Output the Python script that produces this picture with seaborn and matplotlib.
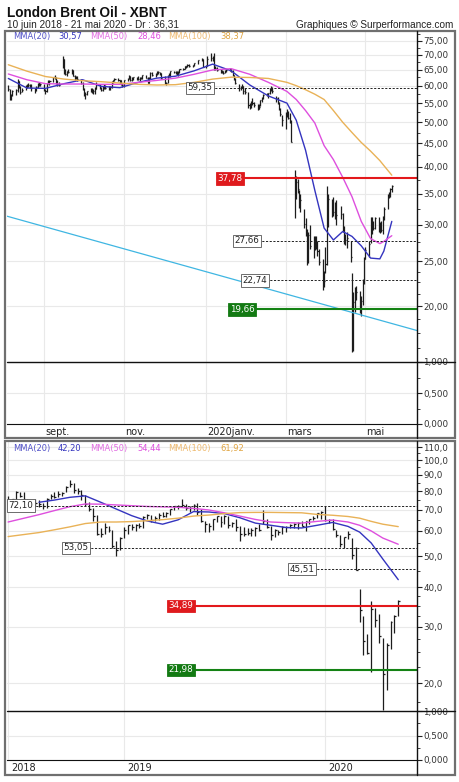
import matplotlib
matplotlib.use("Agg")
import matplotlib.pyplot as plt
import matplotlib.dates as mdates
import matplotlib.ticker as mticker
from matplotlib.patches import Rectangle
from matplotlib.lines import Line2D
from matplotlib.transforms import ScaledTranslation, blended_transform_factory
import numpy as np
import pandas as pd
import seaborn as sns

# ---------------- daily bars, top panel (6 Aug 2019 -> 21 May 2020) ----------------
day_start, day_end = "2019-08-06", "2020-05-21"
day_holidays = ["2019-12-25", "2019-12-26", "2020-01-01", "2020-04-10"]

day_close = [
    58.9, 56.2, 57.4, 58.5, 58.6, 61.3, 59.5, 58.2, 58.6, 59.7, 60.0, 60.3, 59.9, 59.3, 58.7, 59.5, 60.5, 60.1, 60.4,  # aug
    58.7, 58.3, 60.7, 61.0, 61.5, 62.6, 62.4, 60.8, 60.4, 60.2, 68.4, 64.6, 63.6, 64.4, 64.3, 64.8, 63.1, 62.4, 62.7, 61.9, 60.8,  # sep
    58.9, 57.7, 57.7, 58.4, 58.4, 58.2, 58.3, 59.1, 60.5, 59.4, 58.7, 59.4, 59.9, 59.4, 59.0, 59.7, 61.2, 61.7, 62.0, 61.6, 61.6, 60.6, 60.2,  # oct
    61.7, 62.1, 63.0, 61.7, 62.3, 62.5, 62.2, 62.1, 62.4, 62.3, 63.3, 62.4, 60.9, 62.4, 64.0, 63.4, 63.6, 64.3, 64.1, 63.9, 62.4,  # nov
    60.9, 60.8, 63.0, 63.4, 64.4, 64.3, 64.3, 63.7, 64.2, 65.2, 65.3, 66.1, 66.2, 66.5, 66.1, 66.4, 67.2, 68.2, 68.4, 66.0,  # dec
    66.3, 68.6, 68.9, 68.3, 65.4, 65.4, 65.0, 64.2, 64.5, 64.0, 64.6, 64.9, 65.2, 64.6, 63.2, 62.0, 60.7, 59.3, 59.5, 59.8, 58.3, 58.2,  # jan
    54.5, 54.0, 55.3, 54.9, 54.5, 53.3, 54.0, 55.8, 56.3, 57.3, 57.7, 57.8, 59.1, 59.3, 58.5, 56.3, 55.0, 53.4, 52.2, 50.5,  # feb
    51.9, 51.9, 51.1, 50.0, 45.3, 34.4, 37.2, 35.8, 33.2, 33.9, 30.1, 28.7, 24.9, 28.5, 27.0, 27.0, 27.2, 27.4, 26.3, 24.9, 22.8, 22.7,  # mar
    24.7, 29.9, 34.1, 33.1, 31.9, 32.8, 31.5, 31.7, 29.6, 27.7, 27.8, 28.1, 25.6, 19.3, 20.4, 21.3, 21.4, 20.0, 20.5, 22.5, 25.3,  # apr
    26.4, 27.2, 31.0, 29.7, 29.5, 31.0, 29.6, 30.0, 29.2, 31.1, 32.5, 34.8, 34.7, 35.8, 36.3,  # may
]
day_high = [
    60.3, 59.0, 57.6, 58.8, 59.0, 61.9, 61.4, 59.9, 59.2, 60.2, 60.5, 60.8, 60.6, 60.5, 59.4, 59.8, 60.7, 61.1, 60.8,
    60.6, 59.1, 60.9, 61.6, 61.8, 62.8, 63.2, 62.6, 61.6, 61.0, 69.4, 68.6, 65.2, 64.6, 65.1, 65.3, 65.0, 63.3, 63.0, 62.9, 62.0,
    61.2, 59.4, 58.0, 58.5, 59.2, 59.2, 58.9, 59.6, 61.0, 60.5, 59.6, 59.8, 60.4, 60.2, 59.8, 60.0, 61.3, 61.8, 62.2, 62.2, 61.8, 61.8, 60.8,
    61.8, 62.4, 63.2, 63.0, 62.8, 62.7, 62.6, 62.9, 62.6, 62.6, 63.4, 63.4, 62.6, 62.6, 64.2, 64.1, 63.9, 64.4, 64.6, 64.1, 63.9,
    62.9, 61.2, 63.2, 64.0, 64.7, 64.7, 64.6, 64.6, 64.4, 65.3, 65.5, 66.2, 66.3, 66.7, 66.7, 66.5, 67.3, 68.2, 69.0, 68.6,
    66.6, 69.5, 70.7, 69.4, 70.6, 66.3, 65.7, 65.2, 64.9, 64.6, 64.9, 65.1, 65.6, 65.3, 64.8, 63.4, 62.4, 60.5, 59.9, 60.4, 59.9, 59.4,
    58.2, 55.1, 55.6, 56.4, 55.2, 54.7, 54.8, 56.0, 56.6, 57.5, 57.8, 57.9, 59.3, 59.9, 59.5, 57.0, 56.8, 55.3, 53.6, 51.9,
    52.6, 53.3, 52.9, 52.3, 50.6, 39.4, 38.2, 37.6, 35.6, 35.0, 32.4, 31.0, 29.3, 29.0, 30.0, 28.3, 28.4, 28.4, 27.6, 26.6, 25.3, 23.8,
    26.9, 36.3, 35.0, 34.1, 34.4, 33.6, 33.9, 33.0, 31.8, 29.8, 28.6, 29.0, 27.6, 23.6, 21.5, 22.0, 22.1, 21.6, 21.0, 22.9, 25.6,
    26.8, 27.6, 31.1, 31.2, 30.6, 31.2, 31.2, 30.4, 30.5, 31.4, 32.8, 35.0, 35.4, 36.0, 36.5,
]
day_low = [
    58.5, 55.9, 55.9, 56.9, 57.4, 58.2, 59.2, 57.7, 58.0, 58.7, 59.4, 59.6, 59.4, 58.4, 57.9, 58.4, 59.4, 59.8, 59.8,
    58.4, 57.7, 58.2, 60.4, 60.3, 61.2, 61.9, 60.6, 59.9, 59.9, 65.4, 63.6, 63.3, 63.0, 63.8, 63.6, 62.9, 61.8, 62.0, 61.4, 60.5,
    58.7, 57.1, 56.2, 57.2, 58.0, 57.8, 57.7, 57.6, 59.1, 59.1, 58.5, 58.4, 58.9, 59.1, 58.8, 58.8, 59.4, 60.8, 61.3, 61.3, 60.6, 60.1, 59.6,
    59.6, 61.4, 61.9, 61.5, 61.4, 61.6, 61.7, 61.8, 61.3, 61.9, 62.1, 62.3, 60.7, 60.7, 62.1, 63.1, 62.8, 63.2, 63.7, 63.4, 62.1,
    60.5, 60.1, 60.9, 62.6, 62.8, 63.8, 63.6, 63.4, 63.0, 63.9, 64.8, 65.1, 65.6, 65.8, 65.9, 65.8, 66.3, 67.0, 67.8, 65.9,
    65.6, 66.1, 68.0, 67.8, 64.9, 64.8, 64.6, 64.0, 63.8, 63.6, 63.9, 64.2, 64.7, 64.3, 63.0, 61.7, 60.5, 58.5, 58.7, 59.2, 57.7, 57.6,
    53.8, 53.5, 53.8, 54.6, 54.0, 53.2, 53.3, 54.1, 55.2, 56.1, 56.9, 56.5, 57.7, 58.5, 57.8, 55.2, 54.8, 53.1, 51.6, 49.1,
    48.4, 51.2, 50.7, 49.8, 45.2, 31.0, 34.1, 35.2, 32.6, 32.0, 29.5, 28.3, 24.5, 24.8, 26.6, 25.4, 26.4, 26.6, 25.7, 24.6, 21.7, 22.0,
    23.6, 24.6, 29.7, 31.2, 31.4, 30.8, 30.0, 30.8, 29.0, 27.2, 27.1, 26.7, 24.9, 15.9, 16.0, 19.4, 20.6, 19.3, 19.0, 20.1, 22.3,
    25.3, 25.5, 27.4, 28.7, 29.2, 29.4, 29.0, 28.8, 28.9, 28.7, 30.7, 32.4, 34.2, 34.5, 35.4,
]

# moving averages
top_ma_dates = ["2019-08-06", "2019-08-20", "2019-09-03", "2019-09-17", "2019-10-01", "2019-10-15",
                "2019-10-29", "2019-11-12", "2019-11-26", "2019-12-10", "2019-12-24", "2020-01-07",
                "2020-01-21", "2020-02-04", "2020-02-18", "2020-03-03", "2020-03-10", "2020-03-17",
                "2020-03-24", "2020-03-31", "2020-04-07", "2020-04-14", "2020-04-21", "2020-04-28",
                "2020-05-05", "2020-05-12", "2020-05-15", "2020-05-21"]
top_ma20 = [62.2, 59.3, 59.2, 60.6, 61.8, 59.8, 59.4, 61.0, 62.3, 62.9, 64.6, 66.8, 64.6, 60.2,
            57.0, 55.0, 50.5, 43.5, 35.6, 29.5, 27.8, 29.0, 28.3, 27.0, 25.4, 25.3, 26.3, 30.5]
top_ma50 = [63.6, 61.8, 60.6, 60.5, 60.5, 60.4, 60.4, 61.0, 61.6, 62.3, 63.5, 64.9, 65.3, 63.5,
            61.0, 58.3, 56.0, 53.0, 49.8, 44.5, 41.5, 38.0, 34.5, 30.5, 28.0, 27.3, 27.6, 28.4]
top_ma100 = [66.6, 64.5, 62.8, 62.0, 61.5, 61.2, 60.8, 60.4, 60.2, 60.3, 61.0, 62.0, 62.6, 62.5,
             62.2, 61.0, 60.0, 58.8, 57.5, 56.0, 53.0, 50.0, 47.5, 45.2, 43.3, 41.3, 40.3, 38.4]
top_ma_last = [30.57, 28.46, 38.37]

trend_dates = ["2019-08-05", "2020-06-09"]
trend_values = [31.3, 17.7]

top_levels = [59.35, 37.78, 27.66, 22.74, 19.66]
top_level_kinds = ["dash", "red", "dash", "dash", "green"]

top_tick_dates = ["2019-09-02", "2019-11-01", "2020-01-02", "2020-03-02", "2020-05-01"]
top_tick_labels = ["sept.", "nov.", "2020janv.", "mars", "mai"]

# ---------------- weekly bars, bottom panel (week of 11 Jun 2018 -> week of 18 May 2020) ----------------
week_start, week_end = "2018-06-11", "2020-05-18"
week_close = [
    73.4, 75.6, 79.4, 77.1, 75.3, 73.1, 74.3, 73.2, 72.8, 71.8, 75.8, 77.4, 76.8, 78.1, 78.8,
    82.7, 84.2, 80.4, 79.8, 77.6, 72.8, 70.2, 66.8, 58.8, 58.7, 61.7, 60.3, 53.8, 52.2, 57.1,
    60.5, 62.7, 61.6, 62.8, 62.1, 66.3, 67.1, 65.1, 65.7, 67.2, 67.0, 68.4, 70.3, 71.6, 71.9,
    72.2, 70.9, 70.6, 72.2, 68.7, 64.5, 63.3, 62.0, 65.2, 66.6, 64.2, 66.7, 62.5, 63.5, 61.9,
    58.5, 58.6, 59.3, 60.4, 61.5, 60.2, 64.3, 61.9, 58.4, 60.5, 59.4, 61.9, 61.7, 62.5, 63.3,
    63.4, 62.4, 64.4, 65.2, 66.1, 68.2, 68.6,
    65.0, 64.9, 60.7, 58.2, 54.5, 57.3, 58.5, 50.5, 45.3, 33.9, 27.0, 24.9, 34.1, 31.5, 28.1,
    21.4, 26.4, 31.0, 32.5, 36.3,
]
week_high = [
    77.2, 75.7, 79.8, 79.4, 79.4, 75.4, 74.9, 75.3, 74.9, 73.3, 76.0, 78.2, 79.7, 80.1, 79.6,
    83.0, 86.7, 85.0, 81.6, 80.5, 78.0, 73.8, 71.0, 67.3, 61.3, 63.7, 62.3, 60.4, 55.8, 57.3,
    61.9, 62.8, 63.1, 63.1, 63.7, 66.8, 67.7, 67.4, 66.6, 68.1, 68.7, 68.7, 70.4, 71.7, 72.3,
    75.6, 73.0, 71.6, 73.0, 73.3, 70.5, 64.6, 63.4, 65.5, 66.9, 66.8, 67.5, 66.8, 64.0, 65.5,
    62.3, 61.9, 61.1, 61.1, 61.8, 63.2, 70.0, 65.3, 62.0, 61.0, 60.5, 62.2, 62.2, 63.2, 63.4,
    64.2, 64.6, 64.7, 65.3, 66.7, 68.2, 69.5,
    71.7, 65.2, 65.6, 60.5, 58.2, 57.5, 59.9, 57.0, 53.3, 39.4, 32.4, 28.4, 36.3, 34.4, 33.0,
    27.6, 26.8, 31.2, 32.8, 36.5,
]
week_low = [
    72.7, 72.4, 74.0, 76.5, 73.1, 71.9, 72.4, 71.8, 71.2, 70.3, 71.0, 75.4, 76.1, 76.8, 77.3,
    79.3, 82.2, 79.1, 78.2, 74.8, 71.9, 69.5, 64.6, 58.4, 57.5, 58.7, 59.4, 53.2, 50.2, 52.2,
    56.9, 58.9, 60.5, 59.9, 61.2, 61.1, 65.6, 64.1, 64.6, 65.1, 66.2, 66.4, 67.5, 69.9, 70.3,
    71.3, 69.9, 68.9, 70.0, 67.5, 64.2, 59.5, 59.5, 60.6, 64.0, 61.9, 63.2, 61.3, 61.8, 60.0,
    55.9, 57.7, 58.4, 57.9, 57.7, 59.9, 63.0, 61.4, 56.2, 57.6, 58.4, 58.8, 59.6, 61.4, 61.3,
    60.7, 62.1, 60.1, 63.0, 64.8, 65.8, 65.6,
    64.6, 63.6, 60.5, 57.6, 53.5, 53.1, 56.5, 49.1, 45.2, 31.0, 24.5, 24.6, 21.7, 30.0, 26.7,
    16.5, 19.0, 25.5, 28.7, 32.4,
]

bot_ma_dates = ["2018-06-11", "2018-08-06", "2018-09-03", "2018-10-01", "2018-10-29", "2018-11-26",
                "2018-12-24", "2019-01-21", "2019-02-18", "2019-03-18", "2019-04-15", "2019-05-13",
                "2019-06-10", "2019-07-08", "2019-08-05", "2019-09-02", "2019-09-30", "2019-10-28",
                "2019-11-25", "2019-12-23", "2020-01-20", "2020-02-17", "2020-03-09", "2020-03-30",
                "2020-04-20", "2020-05-18"]
bot_ma20 = [np.nan, 73.8, 75.0, 76.5, 77.3, 73.8, 70.3, 67.0, 64.5, 63.0, 65.0, 69.0, 68.8,
            68.0, 66.0, 63.5, 62.5, 61.5, 61.3, 62.5, 63.8, 62.0, 59.5, 55.0, 49.0, 42.2]
bot_ma50 = [64.0, 67.5, 69.5, 71.5, 72.9, 72.8, 72.4, 72.0, 71.6, 71.4, 71.2, 70.6, 69.8,
            68.4, 66.8, 65.2, 64.0, 63.7, 63.5, 64.3, 64.9, 64.0, 62.5, 60.0, 57.0, 54.5]
bot_ma100 = [57.6, 59.3, 60.5, 61.8, 63.3, 64.0, 64.0, 64.2, 64.6, 65.1, 65.8, 66.8, 67.3,
             68.0, 68.5, 68.6, 68.6, 68.5, 68.4, 67.6, 67.2, 66.6, 65.8, 64.3, 63.0, 61.9]
bot_ma_last = [42.20, 54.44, 61.92]

bot_levels = [72.10, 53.05, 45.51, 34.89, 21.98]
bot_level_kinds = ["dash", "dash", "dash", "red", "green"]

bot_tick_dates = ["2018-06-11", "2019-01-07", "2020-01-06"]
bot_tick_labels = ["2018", "2019", "2020"]

# ---------------- layout / style ----------------
W, H = 460, 782
AX_L, AX_R = 7, 417
BAR = "#1c1c1c"
MA_COLORS = {"MMA(20)": "#3434bf", "MMA(50)": "#de4fde", "MMA(100)": "#e9b257"}
MA_LABEL_COLORS = ["#5252c8", "#e26ee2", "#eeba70"]
GRID = "#e9e9e9"


def box(x0, y0, x1, y1):
    return [x0 / W, 1 - y1 / H, (x1 - x0) / W, (y1 - y0) / H]


def fx(px):
    return (px - AX_L) / (AX_R - AX_L)


def comma(fmt):
    return mticker.FuncFormatter(lambda v, p: fmt.format(v).replace(".", ","))


def style_right_axis(ax, lo, hi, major, minor, fmt, log=True):
    if log:
        ax.set_yscale("log")
    ax.set_ylim(lo, hi)
    ax.yaxis.set_major_locator(mticker.FixedLocator(major))
    ax.yaxis.set_minor_locator(mticker.FixedLocator(minor))
    ax.yaxis.set_major_formatter(comma(fmt))
    ax.yaxis.set_minor_formatter(mticker.NullFormatter())
    ax.yaxis.tick_right()
    ax.tick_params(axis="y", which="major", length=3.5, width=0.8, pad=1,
                   labelsize=6.3, labelcolor="#333333", color="#222222")
    ax.tick_params(axis="y", which="minor", length=2, width=0.6, color="#222222")
    for s in ax.spines.values():
        s.set_visible(False)
    ax.grid(True, which="major", color=GRID, lw=0.8)
    ax.set_axisbelow(True)


def draw_bars(ax, dates, low, high, close, tick_days):
    x = mdates.date2num(dates)
    ax.vlines(x, low, high, color=BAR, lw=0.9, zorder=3)
    ax.hlines(close, x, x + tick_days, color=BAR, lw=0.9, zorder=3)


def draw_mas(ax, dates, ma20, ma50, ma100):
    df = pd.DataFrame({"date": mdates.date2num(pd.to_datetime(dates)),
                       "MMA(20)": ma20, "MMA(50)": ma50, "MMA(100)": ma100})
    df = df.melt(id_vars="date", var_name="serie", value_name="valeur").dropna()
    sns.lineplot(data=df, x="date", y="valeur", hue="serie", palette=MA_COLORS,
                 legend=False, ax=ax, linewidth=1.0, zorder=4, estimator=None)
    ax.set_xlabel("")
    ax.set_ylabel("")


def draw_level(ax, value, kind, label_px):
    tr = blended_transform_factory(ax.transAxes, ax.transData)
    txt = f"{value:.2f}".replace(".", ",")
    if kind == "red":
        ax.plot([fx(label_px), 1], [value, value], transform=tr, color="#e3191c", lw=1.5, zorder=5)
        ax.text(fx(label_px), value, txt, transform=tr, ha="center", va="center", fontsize=6.3,
                color="white", zorder=6,
                bbox=dict(boxstyle="square,pad=0.2", fc="#df1a1d", ec="#df1a1d", lw=0.6))
    elif kind == "green":
        ax.plot([fx(label_px), 1], [value, value], transform=tr, color="#148214", lw=1.5, zorder=5)
        ax.text(fx(label_px), value, txt, transform=tr, ha="center", va="center", fontsize=6.3,
                color="white", zorder=6,
                bbox=dict(boxstyle="square,pad=0.2", fc="#137a13", ec="#137a13", lw=0.6))
    else:
        ax.plot([fx(label_px), 1], [value, value], transform=tr, color="#222222", lw=0.7,
                ls=(0, (2.2, 1.6)), zorder=5)
        ax.text(fx(label_px), value, txt, transform=tr, ha="center", va="center", fontsize=6.3,
                color="#222222", zorder=6,
                bbox=dict(boxstyle="square,pad=0.2", fc="white", ec="#555555", lw=0.6))


def ma_legend(ax, values, dy):
    parts = [("MMA(20)", MA_LABEL_COLORS[0]), (f"{values[0]:.2f}", MA_COLORS["MMA(20)"]),
             ("MMA(50)", MA_LABEL_COLORS[1]), (f"{values[1]:.2f}", MA_COLORS["MMA(50)"]),
             ("MMA(100)", MA_LABEL_COLORS[2]), (f"{values[2]:.2f}", "#e0a440")]
    xs = [13, 58, 90, 137, 168, 220]
    for (t, c), px in zip(parts, xs):
        ax.annotate(t.replace(".", ","), xy=(fx(px), 1), xycoords="axes fraction",
                    xytext=(0, -dy), textcoords="offset pixels", ha="left", va="center",
                    fontsize=6.0, color=c, zorder=7)


def date_ticks(ax_price, ax_sub, dates, labels, dx_px):
    ticks = mdates.date2num(pd.to_datetime(dates))
    ax_sub.set_xticks(ticks)
    ax_sub.set_xticklabels(labels)
    ax_price.tick_params(axis="x", labelbottom=False, length=0)
    ax_sub.tick_params(axis="x", length=0, pad=2.5, labelsize=7, labelcolor="#222222")
    shift = ScaledTranslation(dx_px / 100, 0, fig.dpi_scale_trans)
    for lbl in ax_sub.get_xticklabels():
        lbl.set_horizontalalignment("left")
        lbl.set_transform(lbl.get_transform() + shift)


# ---------------- data frames ----------------
day_dates = pd.bdate_range(day_start, day_end)
day_dates = day_dates[~day_dates.isin(pd.to_datetime(day_holidays))]
week_dates = pd.date_range(week_start, week_end, freq="7D")
assert len(day_dates) == len(day_close) == len(day_high) == len(day_low), (len(day_dates), len(day_close), len(day_high), len(day_low))
assert len(week_dates) == len(week_close) == len(week_high) == len(week_low), (len(week_dates), len(week_close))

sns.set_style("white")
plt.rcParams["font.family"] = ["DejaVu Sans"]

fig = plt.figure(figsize=(W / 100, H / 100), dpi=100)
fig.patch.set_facecolor("white")

ax1 = fig.add_axes(box(AX_L, 31, AX_R, 362))
ax1v = fig.add_axes(box(AX_L, 362, AX_R, 424), sharex=ax1)
ax2 = fig.add_axes(box(AX_L, 441, AX_R, 711))
ax2v = fig.add_axes(box(AX_L, 711, AX_R, 760), sharex=ax2)

# ---- top panel ----
draw_bars(ax1, day_dates, day_low, day_high, day_close, 0.8)
draw_mas(ax1, top_ma_dates, top_ma20, top_ma50, top_ma100)
ax1.plot(mdates.date2num(pd.to_datetime(trend_dates)), trend_values, color="#3fb6e2", lw=0.9, zorder=4)
style_right_axis(ax1, 15.13, 78.8, list(range(20, 80, 5)),
                 [16.25, 17.5, 18.75, 21.25, 22.5, 23.75, 26.25, 27.5, 28.75, 32.5, 37.5,
                  42.5, 47.5, 52.5, 57.5, 62.5, 67.5, 72.5, 77.5], "{:.2f}")
for v, k, px in zip(top_levels, top_level_kinds, [200, 230, 247, 255, 242]):
    draw_level(ax1, v, k, px)
ma_legend(ax1, top_ma_last, 6)

style_right_axis(ax1v, 0, 1, [0, 0.5, 1], [0.25, 0.75], "{:.3f}", log=False)
ax1v.spines["bottom"].set_visible(True)
ax1v.spines["bottom"].set_color("#111111")
ax1.set_xlim(mdates.date2num(pd.Timestamp("2019-08-05")), mdates.date2num(pd.Timestamp("2020-06-09")))
date_ticks(ax1, ax1v, top_tick_dates, top_tick_labels, 1)

# ---- bottom panel ----
draw_bars(ax2, week_dates, week_low, week_high, week_close, 3.5)
draw_mas(ax2, bot_ma_dates, bot_ma20, bot_ma50, bot_ma100)
style_right_axis(ax2, 16.34, 114.9, [20, 30, 40, 50, 60, 70, 80, 90, 100, 110],
                 [17.5, 22.5, 25, 27.5, 32.5, 35, 37.5, 45, 55, 65, 75, 85, 95, 105], "{:.1f}")
for v, k, px in zip(bot_levels, bot_level_kinds, [21, 76, 302, 181, 181]):
    draw_level(ax2, v, k, px)
ma_legend(ax2, bot_ma_last, 7)

style_right_axis(ax2v, 0, 1, [0, 0.5, 1], [0.25, 0.75], "{:.3f}", log=False)
ax2v.spines["bottom"].set_visible(True)
ax2v.spines["bottom"].set_color("#111111")
ax2.set_xlim(mdates.date2num(pd.Timestamp("2018-06-09")), mdates.date2num(pd.Timestamp("2020-06-21")))
date_ticks(ax2, ax2v, bot_tick_dates, bot_tick_labels, 3)

# ---- frames and separators in figure pixels ----
def fig_line(x0, y0, x1, y1, color="#111111", lw=1.0):
    fig.add_artist(Line2D([x0 / W, x1 / W], [1 - y0 / H, 1 - y1 / H], color=color, lw=lw,
                          transform=fig.transFigure, zorder=10))


for top, bottom, sep in [(31, 438, 362), (441, 775, 711)]:
    fig.add_artist(Rectangle((5 / W, 1 - bottom / H), 450 / W, (bottom - top) / H,
                             transform=fig.transFigure, fill=False, ec="#6f6f6f", lw=1.6, zorder=10))
    fig_line(AX_R, top, AX_R, bottom)
    fig_line(AX_L, sep, 455, sep)

fig.text(7 / W, 1 - 17 / H, "London Brent Oil - XBNT", fontsize=9.8, fontweight="bold",
         family=["Liberation Sans", "DejaVu Sans"], va="baseline", color="#111111")
fig.text(7 / W, 1 - 28.5 / H, "10 juin 2018 - 21 mai 2020 - Dr : 36,31", fontsize=7.2,
         family=["Liberation Sans", "DejaVu Sans"], va="baseline", color="#222222")
fig.text(453 / W, 1 - 28.5 / H, "Graphiques © Surperformance.com", fontsize=7.2,
         family=["Liberation Sans", "DejaVu Sans"], va="baseline", ha="right", color="#222222")

fig.savefig("out.png", dpi=100, facecolor="white")
